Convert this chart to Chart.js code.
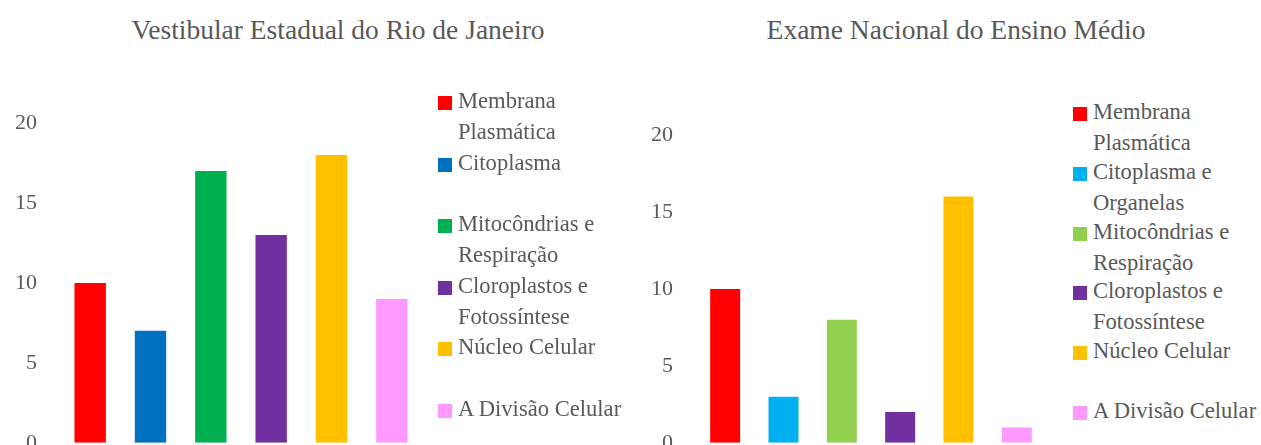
<!DOCTYPE html>
<html>
<head>
<meta charset="utf-8">
<script src="https://cdn.jsdelivr.net/npm/chart.js@4"></script>
<style>
  body { margin: 0; width: 1261px; height: 445px; overflow: hidden; background: #fff; position: relative;
         font-family: 'Liberation Serif', 'Times New Roman', serif; color: #595959; }
  canvas { position: absolute; top: 0; }
  .title { position: absolute; font-size: 27.5px; white-space: nowrap; transform: translateX(-50%); line-height: 1; }
  .legend { position: absolute; font-size: 22.6px; }
  .item { position: absolute; left: 0; white-space: nowrap; }
  .box { position: absolute; left: 0; width: 14px; height: 14px; }
  .txt { position: absolute; left: 20px; line-height: 31px; }
</style>
</head>
<body>
<div class="title" id="title1" style="left:338px; top:16px;"></div>
<div class="title" id="title2" style="left:956px; top:16px;"></div>
<canvas id="chart1" width="440" height="479" style="left:0;"></canvas>
<canvas id="chart2" width="420" height="479" style="left:640px;"></canvas>
<div class="legend" id="legend1" style="left:438px; top:85px;"></div>
<div class="legend" id="legend2" style="left:1073px; top:96px;"></div>
<script>
// Vestibular Estadual do Rio de Janeiro
const title1 = 'Vestibular Estadual do Rio de Janeiro';
const categories1 = [['Membrana', 'Plasmática'], 'Citoplasma', ['Mitocôndrias e', 'Respiração'],
  ['Cloroplastos e', 'Fotossíntese'], 'Núcleo Celular', 'A Divisão Celular'];
const values1 = [10, 7, 17, 13, 18, 9];
const colors1 = ['#FF0000', '#0070C0', '#00B050', '#7030A0', '#FFC000', '#FF99FF'];

// Exame Nacional do Ensino Médio
const title2 = 'Exame Nacional do Ensino Médio';
const categories2 = [['Membrana', 'Plasmática'], ['Citoplasma e', 'Organelas'], ['Mitocôndrias e', 'Respiração'],
  ['Cloroplastos e', 'Fotossíntese'], 'Núcleo Celular', 'A Divisão Celular'];
const values2 = [10, 3, 8, 2, 16, 1];
const colors2 = ['#FF0000', '#00B0F0', '#92D050', '#7030A0', '#FFC000', '#FF99FF'];

const yTicks = [0, 5, 10, 15, 20];

function makeChart(id, labels, values, colors, opts) {
  return new Chart(document.getElementById(id), {
    type: 'bar',
    data: {
      labels: labels,
      datasets: [{ data: values, backgroundColor: colors, barPercentage: opts.bar, categoryPercentage: 1 }]
    },
    options: {
      responsive: false,
      devicePixelRatio: 1,
      animation: false,
      layout: { padding: opts.padding },
      plugins: { legend: { display: false }, tooltip: { enabled: false } },
      scales: {
        x: { display: false },
        y: {
          min: yTicks[0], max: yTicks[yTicks.length - 1],
          afterFit: function(s) { s.width = opts.axisWidth; },
          afterBuildTicks: function(s) { s.ticks = yTicks.map(v => ({ value: v })); },
          grid: { display: false, drawTicks: false },
          border: { display: false },
          ticks: { padding: 23, color: '#595959', font: { family: 'Liberation Serif', size: 22 } }
        }
      }
    }
  });
}

function makeLegend(id, labels, colors, step) {
  const el = document.getElementById(id);
  labels.forEach(function(lab, i) {
    const item = document.createElement('div');
    item.className = 'item';
    item.style.top = (i * step) + 'px';
    const box = document.createElement('div');
    box.className = 'box';
    box.style.top = '11px';
    box.style.background = colors[i];
    const txt = document.createElement('div');
    txt.className = 'txt';
    txt.innerHTML = (Array.isArray(lab) ? lab : [lab]).join('<br>');
    item.appendChild(box);
    item.appendChild(txt);
    el.appendChild(item);
  });
}

document.getElementById('title1').textContent = title1;
document.getElementById('title2').textContent = title2;

makeChart('chart1', categories1, values1, colors1,
  { bar: 0.52, axisWidth: 60, padding: { left: 0, right: 18, top: 123, bottom: 18 } });
makeChart('chart2', categories2, values2, colors2,
  { bar: 0.514, axisWidth: 56, padding: { left: 0, right: 14, top: 135, bottom: 18 } });

makeLegend('legend1', categories1, colors1, 61.6);
makeLegend('legend2', categories2, colors2, 59.8);
</script>
</body>
</html>
